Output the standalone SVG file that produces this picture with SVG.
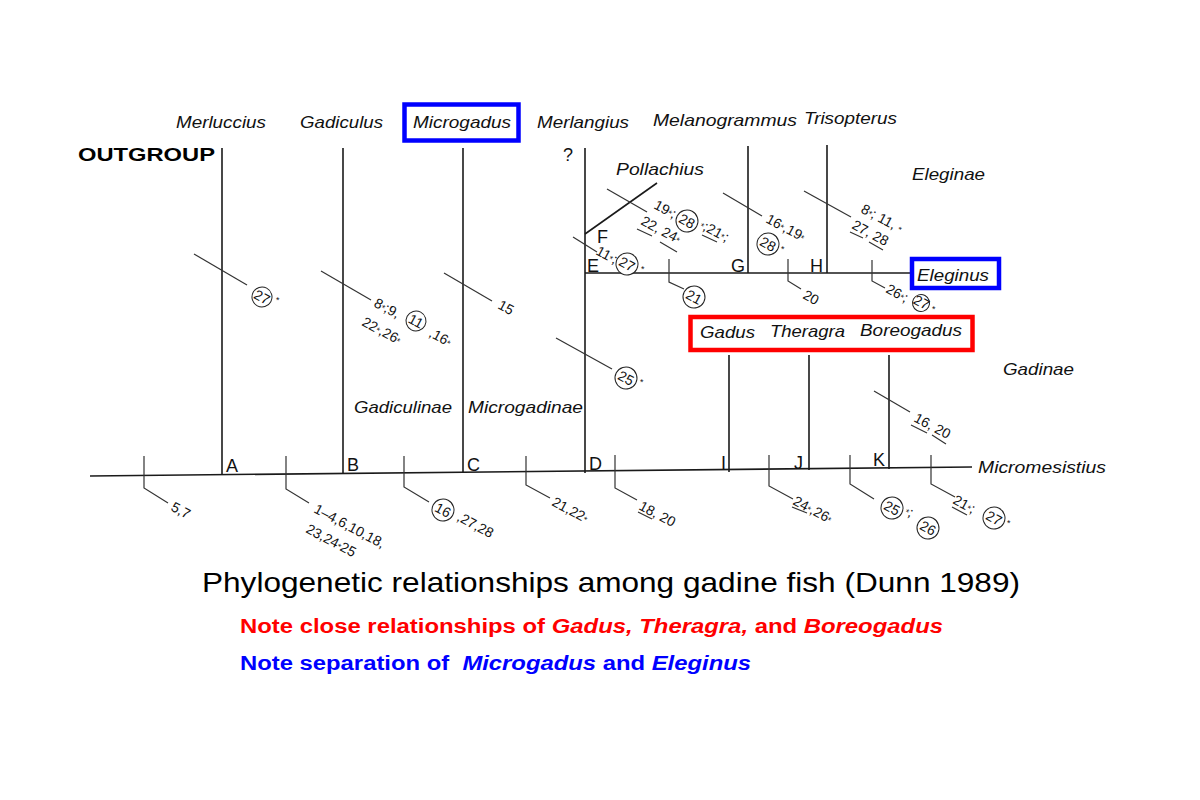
<svg xmlns="http://www.w3.org/2000/svg" width="1200" height="800" viewBox="0 0 1200 800">
<style>
.br{stroke:#1a1a1a;stroke-width:1.6;fill:none}
.tk{stroke:#333;stroke-width:1.2;fill:none}
.sp{font-family:"Liberation Sans",Arial,sans-serif;font-style:italic;font-size:17px;fill:#111}
.lt{font-family:"Liberation Sans",Arial,sans-serif;font-size:18px;fill:#111}
.ch{font-family:"Liberation Sans",Arial,sans-serif;font-size:14px;fill:#111}
.st{font-size:9px}
.cc{stroke:#222;stroke-width:1;fill:#fff}
.box{fill:none;stroke-width:4.5}
</style>
<rect width="1200" height="800" fill="#fff"/>

<g id="connectors">
  <path class="br" d="M90,476 L972,467"/>
  <path class="br" d="M222,148 V475"/>
  <path class="br" d="M343,148 V474"/>
  <path class="br" d="M463,148 V473"/>
  <path class="br" d="M585,148 V473"/>
  <path class="br" d="M585,273 H910"/>
  <path class="br" d="M585,234 L657,183"/>
  <path class="br" d="M748,146 V273"/>
  <path class="br" d="M827,145 V273"/>
  <path class="br" d="M729,355 V472"/>
  <path class="br" d="M809,355 V470"/>
  <path class="br" d="M889,355 V469"/>
  <path class="tk" d="M194,254 L247,285"/>
  <path class="tk" d="M321,271 L371,300"/>
  <path class="tk" d="M444,273 L492,301"/>
  <path class="tk" d="M556,338 L612,369"/>
  <path class="tk" d="M573,237 L597,252"/>
  <path class="tk" d="M607,189 L647,212"/>
  <path class="tk" d="M723,193 L762,216"/>
  <path class="tk" d="M804,191 L851,217"/>
  <path class="tk" d="M874,391 L910,412"/>
  <path class="tk" d="M669,259 V282 L684,289"/>
  <path class="tk" d="M788,259 V281 L801,289"/>
  <path class="tk" d="M872,260 V281 L885,288"/>
  <path class="tk" d="M144,456 V488 L168,503"/>
  <path class="tk" d="M286,456 V489 L309,503"/>
  <path class="tk" d="M404,456 V487 L429,502"/>
  <path class="tk" d="M526,456 V485 L550,498"/>
  <path class="tk" d="M615,455 V488 L637,500"/>
  <path class="tk" d="M769,455 V486 L793,499"/>
  <path class="tk" d="M850,455 V484 L874,499"/>
  <path class="tk" d="M931,455 V484 L955,497"/>
  <path class="tk" d="M637,229 L652,236 M660,242 L677,252 M702,235 L717,242 M850,232 L863,238 M869,242 L883,250 M911,425 L927,433 M932,435 L946,444 M638,512 L652,519 M792,507 L807,513 M952,507 L967,515"/>
</g>

<g id="taxa">
  <g id="n-merluccius"><text class="sp" x="176" y="128" textLength="90" lengthAdjust="spacingAndGlyphs">Merluccius</text></g>
  <g id="n-outgroup"><text x="78" y="161" font-family="Liberation Sans,Arial,sans-serif" font-weight="bold" font-size="19" fill="#000" textLength="137" lengthAdjust="spacingAndGlyphs">OUTGROUP</text></g>
  <g id="n-gadiculus"><text class="sp" x="300" y="128" textLength="83" lengthAdjust="spacingAndGlyphs">Gadiculus</text></g>
  <g id="n-microgadus">
    <rect class="box" x="404.5" y="104.5" width="114" height="36" stroke="#0000ff"/>
    <text class="sp" x="413" y="128" textLength="98" lengthAdjust="spacingAndGlyphs">Microgadus</text>
  </g>
  <g id="n-merlangius"><text class="sp" x="537" y="128" textLength="92" lengthAdjust="spacingAndGlyphs">Merlangius</text><text class="lt" x="563" y="161" font-size="15">?</text></g>
  <g id="n-melanogrammus"><text class="sp" x="653" y="126" textLength="144" lengthAdjust="spacingAndGlyphs">Melanogrammus</text></g>
  <g id="n-trisopterus"><text class="sp" x="804" y="124" textLength="93" lengthAdjust="spacingAndGlyphs">Trisopterus</text></g>
  <g id="n-pollachius"><text class="sp" x="616" y="175" textLength="88" lengthAdjust="spacingAndGlyphs">Pollachius</text></g>
  <g id="n-eleginae"><text class="sp" x="912" y="180" textLength="73" lengthAdjust="spacingAndGlyphs">Eleginae</text></g>
  <g id="n-eleginus">
    <rect class="box" x="912" y="259" width="87" height="29" stroke="#0000ff"/>
    <text class="sp" x="917" y="281" textLength="72" lengthAdjust="spacingAndGlyphs">Eleginus</text>
  </g>
  <g id="n-gadus-group">
    <rect class="box" x="690.5" y="317" width="282" height="33" stroke="#ff0000"/>
    <text class="sp" x="700" y="338" textLength="55" lengthAdjust="spacingAndGlyphs">Gadus</text>
    <text class="sp" x="770" y="337" textLength="75" lengthAdjust="spacingAndGlyphs">Theragra</text>
    <text class="sp" x="860" y="336" textLength="102" lengthAdjust="spacingAndGlyphs">Boreogadus</text>
  </g>
  <g id="n-gadinae"><text class="sp" x="1003" y="375" textLength="71" lengthAdjust="spacingAndGlyphs">Gadinae</text></g>
  <g id="n-micromesistius"><text class="sp" x="978" y="473" textLength="128" lengthAdjust="spacingAndGlyphs">Micromesistius</text></g>
  <g id="n-gadiculinae"><text class="sp" x="354" y="413" textLength="98" lengthAdjust="spacingAndGlyphs">Gadiculinae</text></g>
  <g id="n-microgadinae"><text class="sp" x="468" y="413" textLength="115" lengthAdjust="spacingAndGlyphs">Microgadinae</text></g>
</g>

<g id="node-letters">
  <text class="lt" x="226" y="472">A</text>
  <text class="lt" x="347" y="471">B</text>
  <text class="lt" x="467" y="471">C</text>
  <text class="lt" x="589" y="470">D</text>
  <text class="lt" x="587" y="272">E</text>
  <text class="lt" x="597" y="243">F</text>
  <text class="lt" x="731" y="272">G</text>
  <text class="lt" x="810" y="272">H</text>
  <text class="lt" x="721" y="469">I</text>
  <text class="lt" x="794" y="469">J</text>
  <text class="lt" x="873" y="466">K</text>
</g>

<g id="characters">
  <g transform="translate(262,297) rotate(28)"><circle class="cc" r="10"/><text class="ch" text-anchor="middle" y="5">27</text></g>
  <text class="ch st" x="276" y="303">*</text>
  <text class="ch" transform="translate(373,306) rotate(28)">8<tspan class="st">*</tspan>;9,</text>
  <g transform="translate(416,321) rotate(28)"><circle class="cc" r="10"/><text class="ch" text-anchor="middle" y="5">11</text></g>
  <text class="ch" transform="translate(361,325) rotate(28)">22<tspan class="st">*</tspan>,26<tspan class="st">*</tspan></text>
  <text class="ch" transform="translate(428,336) rotate(28)">,16<tspan class="st">*</tspan></text>
  <text class="ch" transform="translate(497,308) rotate(28)">15</text>
  <g transform="translate(626,378) rotate(28)"><circle class="cc" r="11"/><text class="ch" text-anchor="middle" y="5">25</text></g>
  <text class="ch st" x="640" y="385">*</text>
  <text class="ch" transform="translate(595,254) rotate(28)">11<tspan class="st">*</tspan>;</text>
  <g transform="translate(627,264) rotate(28)"><circle class="cc" r="11"/><text class="ch" text-anchor="middle" y="5">27</text></g>
  <text class="ch st" x="641" y="272">*</text>
  <text class="ch" transform="translate(653,208) rotate(28)">19<tspan class="st">*</tspan>;</text>
  <g transform="translate(687,221) rotate(28)"><circle class="cc" r="11"/><text class="ch" text-anchor="middle" y="5">28</text></g>
  <text class="ch" transform="translate(699,228) rotate(28)"><tspan class="st">*</tspan>;21<tspan class="st">*</tspan>;</text>
  <text class="ch" transform="translate(640,224) rotate(28)">22, 24<tspan class="st">*</tspan></text>
  <g transform="translate(694,297) rotate(28)"><circle class="cc" r="11"/><text class="ch" text-anchor="middle" y="5">21</text></g>
  <text class="ch" transform="translate(765,222) rotate(28)">16<tspan class="st">*</tspan>,19<tspan class="st">*</tspan></text>
  <g transform="translate(768,244) rotate(28)"><circle class="cc" r="11"/><text class="ch" text-anchor="middle" y="5">28</text></g>
  <text class="ch st" x="781" y="252">*</text>
  <text class="ch" transform="translate(802,298) rotate(28)">20</text>
  <text class="ch" transform="translate(860,212) rotate(28)">8<tspan class="st">*</tspan>; 11, <tspan class="st">*</tspan></text>
  <text class="ch" transform="translate(851,228) rotate(28)">27, 28</text>
  <text class="ch" transform="translate(885,292) rotate(28)" font-size="12">26<tspan class="st">*</tspan>;</text>
  <g transform="translate(921,303) rotate(28)"><circle class="cc" r="8.5"/><text class="ch" text-anchor="middle" y="4" font-size="12">27</text></g>
  <text class="ch st" x="932" y="312">*</text>
  <text class="ch" transform="translate(913,421) rotate(28)">16, 20</text>
  <text class="ch" transform="translate(170,510) rotate(28)">5,7</text>
  <text class="ch" transform="translate(313,512) rotate(28)">1–4,6,10,18,</text>
  <text class="ch" transform="translate(305,532) rotate(28)">23,24<tspan class="st">*</tspan>25</text>
  <g transform="translate(443,510) rotate(28)"><circle class="cc" r="11"/><text class="ch" text-anchor="middle" y="5">16</text></g>
  <text class="ch" transform="translate(456,520) rotate(28)">,27,28</text>
  <text class="ch" transform="translate(551,505) rotate(28)">21,22<tspan class="st">*</tspan></text>
  <text class="ch" transform="translate(638,509) rotate(28)">18, 20</text>
  <text class="ch" transform="translate(792,504) rotate(28)">24<tspan class="st">*</tspan>,26<tspan class="st">*</tspan></text>
  <g transform="translate(892,508) rotate(28)"><circle class="cc" r="11"/><text class="ch" text-anchor="middle" y="5">25</text></g>
  <text class="ch" transform="translate(904,514) rotate(28)"><tspan class="st">*</tspan>;</text>
  <g transform="translate(928,528) rotate(28)"><circle class="cc" r="11"/><text class="ch" text-anchor="middle" y="5">26</text></g>
  <text class="ch" transform="translate(952,503) rotate(28)">21<tspan class="st">*</tspan>;</text>
  <g transform="translate(994,518) rotate(28)"><circle class="cc" r="11"/><text class="ch" text-anchor="middle" y="5">27</text></g>
  <text class="ch st" x="1007" y="526">*</text>
</g>

<g id="captions" font-family="Liberation Sans,Arial,sans-serif">
  <text x="202" y="592" font-size="28" fill="#000" textLength="818" lengthAdjust="spacingAndGlyphs">Phylogenetic relationships among gadine fish (Dunn 1989)</text>
  <text x="240" y="633" font-size="20" font-weight="bold" fill="#ff0000" textLength="703" lengthAdjust="spacingAndGlyphs">Note close relationships of <tspan font-style="italic">Gadus, Theragra,</tspan> and <tspan font-style="italic">Boreogadus</tspan></text>
  <text x="240" y="670" font-size="20" font-weight="bold" fill="#0000ff" textLength="511" lengthAdjust="spacingAndGlyphs" xml:space="preserve">Note separation of  <tspan font-style="italic">Microgadus</tspan> and <tspan font-style="italic">Eleginus</tspan></text>
</g>
</svg>
